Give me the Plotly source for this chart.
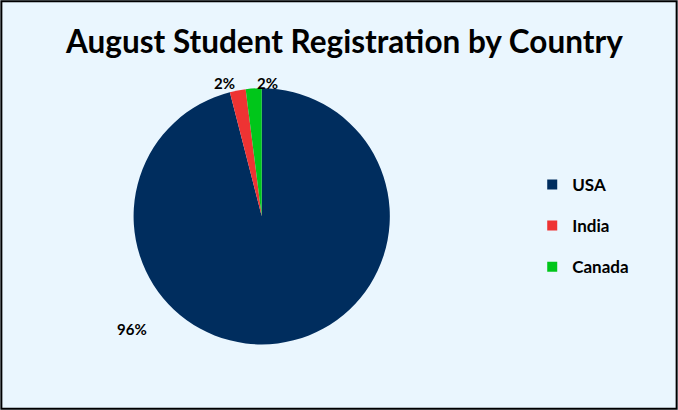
import plotly.graph_objects as go

countries = ["USA", "India", "Canada"]
registrations = [96, 2, 2]
colors = ["#002d5e", "#ee3333", "#00c61a"]

total = sum(registrations)
pcts = [f"<b>{v / total:.0%}</b>" for v in registrations]

fig = go.Figure()

fig.add_trace(go.Pie(
    labels=countries,
    values=registrations,
    sort=False,
    direction="clockwise",
    rotation=0,
    marker=dict(colors=colors, line=dict(width=0)),
    textinfo="none",
    hoverinfo="label+percent",
    domain=dict(x=[0.076, 0.696], y=[0.16, 0.785]),
    showlegend=False,
))

# legend entries (pie legends can't be spaced out, so use empty markers)
for name, col in zip(countries, colors):
    fig.add_trace(go.Scatter(
        x=[None], y=[None], mode="markers", name=name, legendgroup=name,
        marker=dict(symbol="square", size=10, color=col),
    ))

# percent labels placed like the excel chart
label_pos = [(115, 340), (212, 72), (267, 72)]
for txt, (px, py) in zip(pcts, label_pos):
    fig.add_annotation(x=px / 678, y=1 - py / 410, xref="paper", yref="paper",
                       text=txt, showarrow=False,
                       font=dict(family="Lato", size=15, color="black"))

fig.update_layout(
    width=678,
    height=410,
    margin=dict(l=0, r=0, t=0, b=0),
    paper_bgcolor="#eaf6fe",
    plot_bgcolor="#eaf6fe",
    xaxis=dict(visible=False),
    yaxis=dict(visible=False),
    title=dict(text="<b>August Student Registration by Country</b>",
               x=0.508, xanchor="center", y=0.897, yanchor="middle",
               font=dict(family="Lato", size=31.5, color="black")),
    legend=dict(x=0.785, y=0.449, xanchor="left", yanchor="middle",
                font=dict(family="Lato", size=17, color="black", weight="bold"),
                itemwidth=30, tracegroupgap=16, bgcolor="rgba(0,0,0,0)"),
    shapes=[dict(type="rect", xref="paper", yref="paper", x0=0.002, y0=0.003,
                 x1=0.998, y1=0.997, line=dict(color="black", width=2))],
)

fig.write_html("out.html", config={"displayModeBar": False},
               post_script="document.body.style.margin='0';")
